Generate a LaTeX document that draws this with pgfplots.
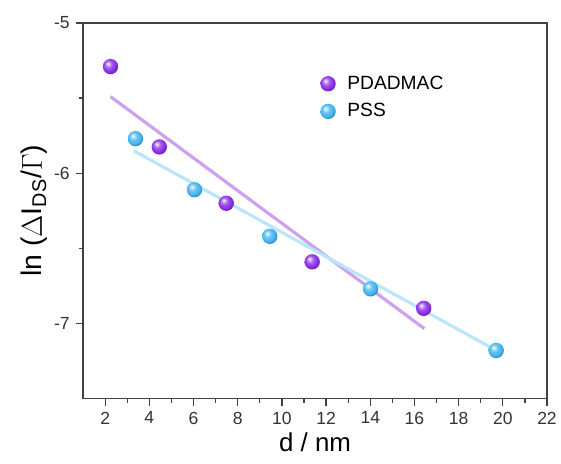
\documentclass[border=0pt]{standalone}
\usepackage{pgfplots}
\pgfplotsset{compat=1.18}
\usepackage{fontspec}
\setmainfont{Liberation Sans}
\setsansfont{Liberation Sans}

\definecolor{pdadmac}{RGB}{140,45,230}
\definecolor{pss}{RGB}{65,180,240}
\definecolor{pdfit}{RGB}{205,160,240}
\definecolor{pssfit}{RGB}{185,230,250}
\definecolor{axisgray}{RGB}{65,65,65}

% glossy ball marks
\pgfdeclareradialshading{pdballsh}{\pgfpoint{-9bp}{10bp}}{%
  color(0bp)=(white); color(3bp)=(pdadmac!25!white); color(12bp)=(pdadmac!80!white);
  color(22bp)=(pdadmac); color(27bp)=(pdadmac!80!black); color(50bp)=(pdadmac!60!black)}
\pgfdeclareradialshading{pssballsh}{\pgfpoint{-9bp}{10bp}}{%
  color(0bp)=(white); color(3bp)=(pss!25!white); color(12bp)=(pss!80!white);
  color(22bp)=(pss); color(27bp)=(pss!80!black); color(50bp)=(pss!60!black)}
\pgfdeclareplotmark{pdball}{%
  \pgfpathcircle{\pgfpointorigin}{\pgfplotmarksize}\pgfshadepath{pdballsh}{0}\pgfusepath{discard}}
\pgfdeclareplotmark{pssball}{%
  \pgfpathcircle{\pgfpointorigin}{\pgfplotmarksize}\pgfshadepath{pssballsh}{0}\pgfusepath{discard}}

\begin{document}
\begin{tikzpicture}
\begin{axis}[
    name=ax,
    width=278pt,
    height=225pt,
    scale only axis,
    xmin=1, xmax=22,
    ymin=-7.5, ymax=-5,
    xtick={2,4,...,22},
    ytick={-7,-6,-5},
    minor x tick num=1,
    minor y tick num=1,
    tick align=outside,
    tick pos=left,
    major tick length=4.5pt,
    minor tick length=2.5pt,
    axis line style={axisgray, line width=1pt},
    every tick/.style={axisgray, line width=0.8pt},
    ticklabel style={font=\fontsize{10.5}{12}\selectfont, text=black!80},
    /pgf/number format/assume math mode=true,
    xlabel={d / nm},
    ylabel={ln ($\Delta$I\textsubscript{DS}/$\Gamma$)},
    xlabel style={font=\fontsize{15.5}{18}\selectfont, yshift=2pt},
    ylabel style={font=\fontsize{17}{20}\selectfont, yshift=-3pt},
    legend style={at={(0.5,0.878)}, anchor=north west, draw=none, fill=none,
        font=\fontsize{11.5}{13}\selectfont, row sep=3pt},
    legend cell align=left,
]
% linear fits
\addplot[pdfit, line width=1.9pt, forget plot] coordinates {(2.24,-5.49) (16.45,-7.035)};
\addplot[pssfit, line width=1.9pt, forget plot] coordinates {(3.29,-5.85) (19.70,-7.18)};

\addplot[only marks, mark=pdball, mark size=4.6pt] coordinates {
    (2.24,-5.29) (4.45,-5.825) (7.48,-6.20) (11.37,-6.59) (16.42,-6.90)
};
\addlegendentry{\hspace*{5pt}PDADMAC}

\addplot[only marks, mark=pssball, mark size=4.6pt] coordinates {
    (3.37,-5.77) (6.04,-6.11) (9.45,-6.42) (14.01,-6.77) (19.70,-7.18)
};
\addlegendentry{\hspace*{5pt}PSS}
\end{axis}
\pgfresetboundingbox
\useasboundingbox ([xshift=-49.8pt,yshift=-39pt]ax.south west) rectangle ([xshift=8.4pt,yshift=13.8pt]ax.north east);
\end{tikzpicture}
\end{document}
